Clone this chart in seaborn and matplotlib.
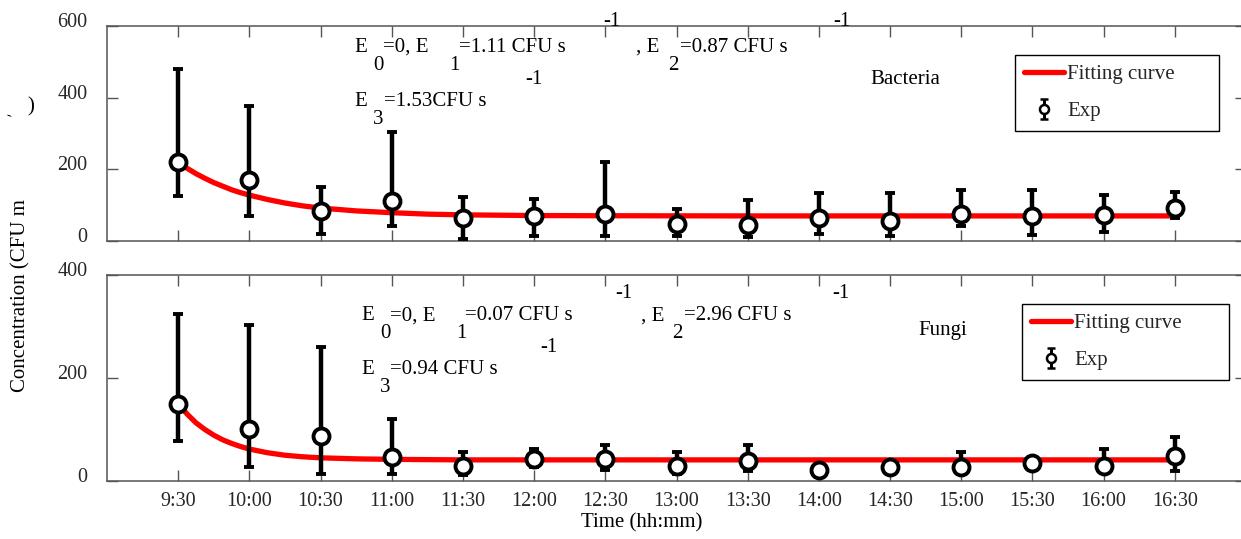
import numpy as np
import pandas as pd
import matplotlib
matplotlib.use("Agg")
import matplotlib.pyplot as plt
import matplotlib.transforms as mtransforms
from matplotlib.lines import Line2D
import seaborn as sns

# ---------------- data ----------------
times = ["9:30", "10:00", "10:30", "11:00", "11:30", "12:00", "12:30", "13:00",
         "13:30", "14:00", "14:30", "15:00", "15:30", "16:00", "16:30"]

bac_mean = [220, 170, 84, 112, 64, 70, 75, 47, 45, 64, 56, 75, 70, 73, 92]
bac_upper = [480, 377, 150, 305, 123, 117, 220, 89, 114, 134, 134, 142, 142, 128, 137]
bac_lower = [126, 70, 20, 42, 6, 14, 14, 14, 11, 20, 14, 42, 17, 25, 64]

fun_mean = [150, 101, 87, 47, 29, 43, 43, 29, 39, 21, 27, 27, 35, 29, 49]
fun_upper = [324, 303, 260, 120, 56, 62, 70, 56, 70, 29, 35, 56, 41, 62, 85]
fun_lower = [78, 27, 14, 14, 12, 27, 21, 14, 19, 16, 19, 16, 29, 17, 19]

# fitted curves (offset in half-hour steps from 9:30)
bac_fit_step = [0, 0.125, 0.25, 0.375, 0.5, 0.625, 0.75, 0.875, 1, 1.25, 1.5, 1.75,
                2, 2.5, 3, 3.5, 4, 5, 6, 8, 14]
bac_fit_val = [220, 203, 188, 175, 163, 153, 143, 135, 128, 116, 106, 98,
               92, 84, 79, 75, 73, 71, 70.5, 70, 70]
fun_fit_step = [0, 0.125, 0.25, 0.375, 0.5, 0.625, 0.75, 0.875, 1, 1.25, 1.5, 1.75,
                2, 2.5, 3, 4, 14]
fun_fit_val = [150, 130, 113, 100, 89, 80, 73, 67, 62, 55, 50, 47,
               45, 43, 42, 41, 41]

W, H = 1241, 539
sns.set_theme(style="white")
plt.rcParams["font.family"] = ["Liberation Serif", "DejaVu Serif"]

fig = plt.figure(figsize=(W / 100, H / 100), dpi=100)
fig.patch.set_facecolor("white")


def fx(x):
    return x / W


def fy(y):
    return 1 - y / H


ax1 = fig.add_axes([fx(107), fy(241), fx(1246) - fx(107), fy(26) - fy(241)])
ax2 = fig.add_axes([fx(107), fy(481), fx(1246) - fx(107), fy(275) - fy(481)])

pos = np.arange(1, len(times) + 1)

panels = [
    (ax1, bac_mean, bac_upper, bac_lower, bac_fit_step, bac_fit_val, (0, 600), [0, 200, 400, 600]),
    (ax2, fun_mean, fun_upper, fun_lower, fun_fit_step, fun_fit_val, (0, 400), [0, 200, 400]),
]

for ax, mean, up, lo, fstep, fval, ylim, yticks in panels:
    mean = np.array(mean, float)
    up = np.array(up, float)
    lo = np.array(lo, float)
    fit_df = pd.DataFrame({"x": 1 + np.array(fstep, float), "y": fval})
    sns.lineplot(data=fit_df, x="x", y="y", ax=ax, color="red", linewidth=3.8,
                 zorder=2, legend=False)
    ax.errorbar(pos, mean, yerr=[mean - lo, up - mean], fmt="o",
                color="black", ecolor="black", elinewidth=3.2,
                capsize=3.3, capthick=3.2, markersize=11.5,
                markerfacecolor="white", markeredgecolor="black",
                markeredgewidth=2.8, zorder=4)
    ax.set_xlim(0, 16)
    ax.set_ylim(*ylim)
    ax.set_yticks(yticks)
    ax.set_xticks(pos)
    ax.set_xticklabels(times)
    ax.set_xlabel("")
    ax.set_ylabel("")
    for sp in ax.spines.values():
        sp.set_color("#555555")
        sp.set_linewidth(1.1)
    ax.tick_params(direction="in", length=8, width=1, color="#555555",
                   top=True, right=True, bottom=True, left=True,
                   labelsize=14.5, labelcolor="#262626")
    ax.tick_params(axis="y", pad=14)
    ax.tick_params(axis="x", pad=8)
    off = mtransforms.ScaledTranslation(0, 6 / 100, fig.dpi_scale_trans)
    for lab in ax.get_yticklabels():
        lab.set_transform(lab.get_transform() + off)

ax1.tick_params(labelbottom=False)

# legends
for ax, (lx, ly, lw) in [(ax1, (1015, 55, 204)), (ax2, (1022, 304, 207))]:
    exp_handle = ax.errorbar([np.nan], [np.nan], yerr=[[np.nan], [np.nan]], fmt="o",
                             color="black", ecolor="black", elinewidth=2.2,
                             capsize=3, capthick=2.2, markersize=6.5,
                             markerfacecolor="white", markeredgecolor="black",
                             markeredgewidth=1.8)
    leg = ax.legend([Line2D([], [], color="red", lw=3.8), exp_handle],
                    ["Fitting curve", "Exp"],
                    loc="upper left",
                    bbox_to_anchor=(fx(lx), fy(ly) - 0.1, fx(lw), 0.1),
                    bbox_transform=fig.transFigure, mode="expand",
                    borderaxespad=0, fancybox=False, framealpha=1,
                    edgecolor="black", fontsize=15, handlelength=1.9,
                    handletextpad=0.15, labelspacing=0.85, borderpad=0.45)
    leg.get_frame().set_linewidth(1.0)


def txt(s, x, y, size=15, **kw):
    fig.text(fx(x), fy(y), s, ha="left", va="center", fontsize=size,
             color="black", **kw)


# annotations
top_pieces = [("E", 354, 47), ("0", 373, 65), ("=0, E", 383, 47), ("1", 449, 65),
              ("=1.11 CFU s", 459, 47), ("-1", 603, 22), (", E", 636, 47),
              ("2", 668, 65), ("=0.87 CFU s", 680, 47), ("-1", 833, 22),
              ("-1", 525, 80), ("E", 354, 101), ("3", 373, 119),
              ("=1.53CFU s", 384, 101), ("Bacteria", 870, 80)]
bot_pieces = [("E", 361, 316), ("0", 380, 333), ("=0, E", 390, 316), ("1", 456, 333),
              ("=0.07 CFU s", 465, 316), ("-1", 615, 293), (", E", 641, 316),
              ("2", 672, 333), ("=2.96 CFU s", 684, 316), ("-1", 832, 293),
              ("-1", 540, 348), ("E", 361, 370), ("3", 380, 388),
              ("=0.94 CFU s", 390, 370), ("Fungi", 918, 331)]
for s, x, y in top_pieces + bot_pieces:
    txt(s, x, y)

# axis labels
fig.text(fx(21), fy(296), "Concentration (CFU m", rotation=90, ha="center",
         va="center", fontsize=15, color="black")
fig.text(fx(31), fy(107), ")", ha="center", va="center", fontsize=15, color="black")
fig.text(fx(8), fy(116), "-", ha="center", va="center", fontsize=11,
         rotation=-20, color="black")
fig.text(fx(642), fy(523), "Time (hh:mm)", ha="center", va="center",
         fontsize=15, color="black")

fig.savefig("out.png", dpi=100, facecolor="white")
